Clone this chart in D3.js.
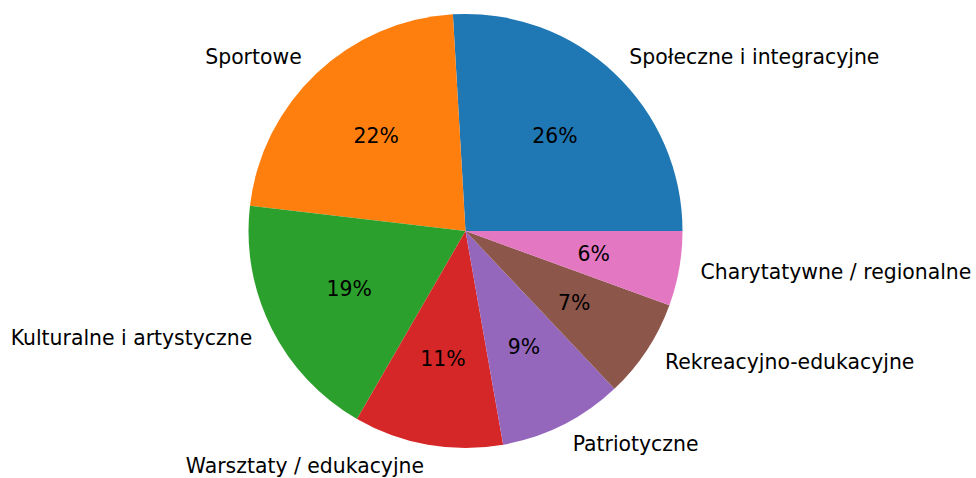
<!DOCTYPE html>
<html>
<head>
<meta charset="utf-8">
<script src="https://cdn.jsdelivr.net/npm/d3@7"></script>
<style>
  body { margin: 0; background: #fff; }
  text { font-family: "DejaVu Sans", sans-serif; }
</style>
</head>
<body>
<svg id="pie-chart" width="976" height="478"></svg>
<script>
const categories = ["Społeczne i integracyjne", "Sportowe", "Kulturalne i artystyczne",
    "Warsztaty / edukacyjne", "Patriotyczne", "Rekreacyjno-edukacyjne", "Charytatywne / regionalne"];
const counts = [14, 12, 10, 6, 5, 4, 3];
const colors = ["#1f77b4", "#ff7f0e", "#2ca02c", "#d62728", "#9467bd", "#8c564b", "#e377c2"];

const width = 976, height = 478;
const cx = 465.5, cy = 231, radius = 217;

const data = categories.map((c, i) => ({name: c, value: counts[i]}));
const total = d3.sum(counts);

// matplotlib style: start at 3 o'clock, go counterclockwise
let pie = d3.pie()
    .value(d => d.value)
    .sort(null)
    .startAngle(Math.PI / 2)
    .endAngle(Math.PI / 2 - 2 * Math.PI);

let arcs = pie(data);

let arc = d3.arc().innerRadius(0).outerRadius(radius);
let labelArc = d3.arc().innerRadius(radius * 1.1).outerRadius(radius * 1.1);
let pctArc = d3.arc().innerRadius(radius * 0.6).outerRadius(radius * 0.6);

let color = d3.scaleOrdinal().domain(categories).range(colors);

const svg = d3.select("#pie-chart")
    .attr("viewBox", [0, 0, width, height]);

const g = svg.append("g")
    .attr("transform", `translate(${cx},${cy})`);

g.selectAll("path")
    .data(arcs)
    .join("path")
    .attr("fill", d => color(d.data.name))
    .attr("d", arc);

g.selectAll("text.label")
    .data(arcs)
    .join("text")
    .attr("class", "label")
    .attr("transform", d => `translate(${labelArc.centroid(d)})`)
    .attr("text-anchor", d => labelArc.centroid(d)[0] > 0 ? "start" : "end")
    .attr("dominant-baseline", "central")
    .attr("font-size", 20.4)
    .attr("fill", "#000")
    .text(d => d.data.name);

g.selectAll("text.pct")
    .data(arcs)
    .join("text")
    .attr("class", "pct")
    .attr("transform", d => `translate(${pctArc.centroid(d)})`)
    .attr("text-anchor", "middle")
    .attr("dominant-baseline", "central")
    .attr("font-size", 20.4)
    .attr("fill", "#000")
    .text(d => `${Math.round(d.value / total * 100)}%`);
</script>
</body>
</html>
